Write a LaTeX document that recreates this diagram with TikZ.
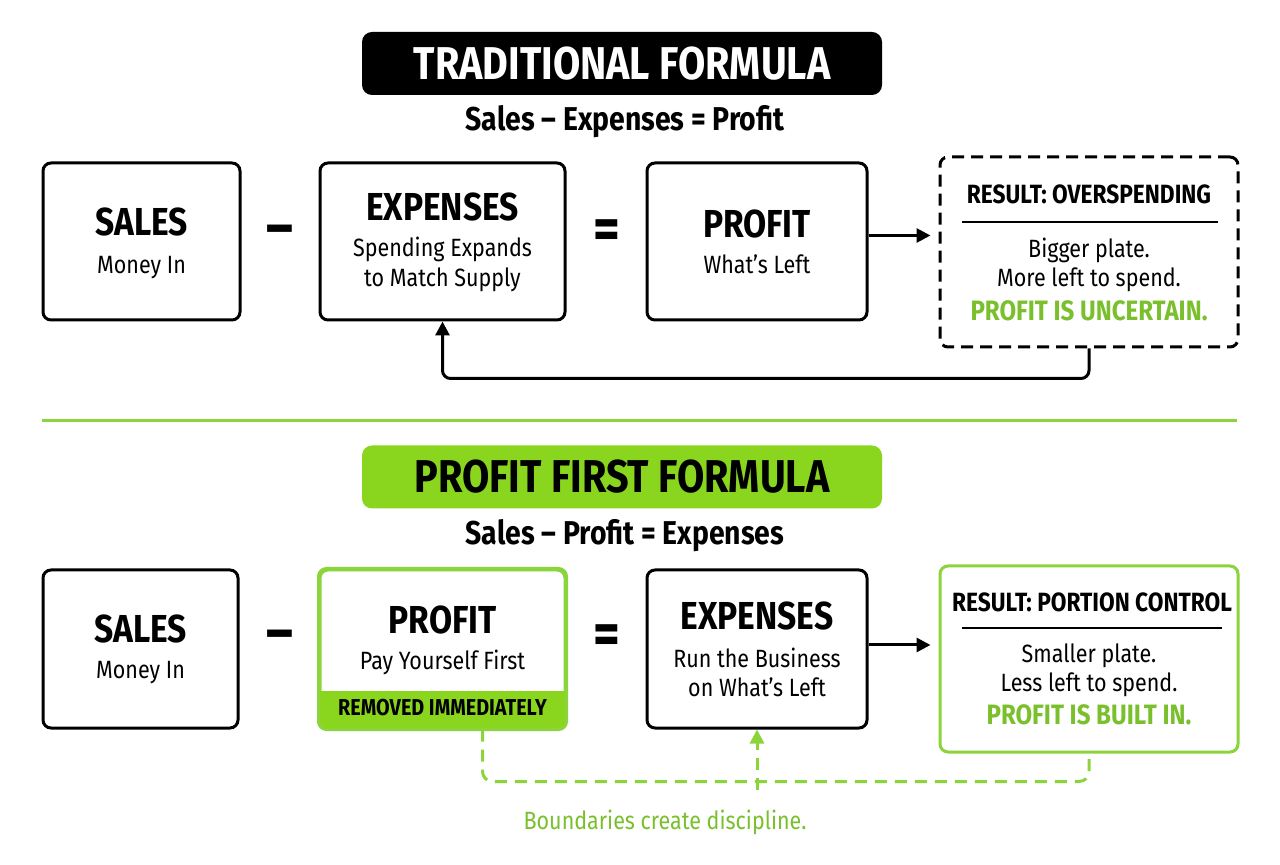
\documentclass[tikz,border=0pt]{standalone}
\usepackage{fontspec}
\setmainfont{Fira Sans}[FakeStretch=0.86]
\usetikzlibrary{arrows.meta,positioning}

\definecolor{vert}{HTML}{8AD61E}
\definecolor{vertligne}{HTML}{8CD43C}
\definecolor{verttexte}{HTML}{7AC02C}

\tikzset{
  boite/.style 2 args={draw, line width=1.5pt, rounded corners=4pt,
    minimum width=#1, minimum height=#2, inner sep=0pt},
  bandeau/.style={rounded corners=5pt, minimum width=260pt, minimum height=31.5pt,
    font=\fontsize{23}{24}\selectfont\bfseries},
  formule/.style={font=\fontsize{16.5}{18}\selectfont\bfseries},
  entete/.style={font=\fontsize{19.5}{20}\selectfont\bfseries, anchor=base, inner sep=0pt},
  texte/.style={font=\fontsize{12.5}{14}\selectfont, anchor=base, inner sep=0pt},
  resultat/.style={font=\fontsize{13.2}{14}\selectfont\bfseries, anchor=base, inner sep=0pt},
  signe/.style={font=\fontsize{30}{30}\selectfont\bfseries, inner sep=0pt},
  fleche/.style={line width=1.5pt, -{Triangle[length=7pt,width=7pt]}},
  tirets/.style={vertligne, line width=1.5pt, dash pattern=on 6pt off 4pt}
}

\begin{document}
\begin{tikzpicture}[x=0.5pt, y=-0.5pt]

  % Cadre
  \fill[white] (0,0) rectangle (1280,865);
  \useasboundingbox (0,0) rectangle (1280,865);

  % Formule traditionnelle
  \node[bandeau, fill=black, text=white] (titre1) at (622,63.5) {TRADITIONAL FORMULA};
  \node[formule] (form1) at (625,122) {Sales -- Expenses = Profit};

  \node[boite={98.5pt}{78.5pt}] (sales1) at (141.5,241.5) {};
  \node[boite={122.5pt}{78.5pt}] (exp1) at (442.5,241.5) {};
  \node[boite={110pt}{78.5pt}] (prof1) at (757,241.5) {};
  \node[boite={149pt}{95pt}, dash pattern=on 6pt off 3.5pt] (res1) at (1089,252) {};

  \node[entete] (sales1t) at (141.5,236) {SALES};
  \node[texte] (sales1s) at (141.5,274) {Money In};
  \node[entete] (exp1t) at (442.5,221) {EXPENSES};
  \node[texte] (exp1s) at (442.5,257) {Spending Expands};
  \node[texte] (exp1u) at (442.5,287) {to Match Supply};
  \node[entete] (prof1t) at (757,238) {PROFIT};
  \node[texte] (prof1s) at (757,274) {What’s Left};

  \node[resultat] (res1t) at (1089,204) {RESULT: OVERSPENDING};
  \draw[line width=1.2pt] (962,222) -- (1218,222);
  \node[texte] (res1a) at (1089,258) {Bigger plate.};
  \node[texte] (res1b) at (1089,287) {More left to spend.};
  \node[resultat, text=verttexte, font=\fontsize{14}{15}\selectfont\bfseries] (res1c) at (1089,321) {PROFIT IS UNCERTAIN.};

  \node[signe] (moins1) at (280,236) {–};
  \node[signe] (egal1) at (607,235) {=};

  \draw[fleche] ([yshift=3pt]prof1.east) -- ([yshift=3pt,xshift=-4pt]prof1.east -| res1.west);
  \draw[fleche, rounded corners=4pt] (res1.south) -- ++(0,30) -| (exp1.south);

  % Separation
  \draw[vertligne, line width=1.5pt] (42,421) -- (1237,421);

  % Formule Profit First
  \node[bandeau, fill=vert, text=black] (titre2) at (622,477) {PROFIT FIRST FORMULA};
  \node[formule] (form2) at (625,536) {Sales -- Profit = Expenses};

  \node[boite={97.5pt}{79pt}] (sales2) at (140.5,649) {};
  \node[boite={122.5pt}{79pt}, draw=vertligne] (pp) at (442.5,649) {};
  \node[boite={110pt}{79pt}] (exp2) at (757,649) {};
  \node[boite={149pt}{93pt}, draw=vertligne] (res2) at (1089,659) {};

  % Bandeau vert de la boite profit
  \begin{scope}
    \clip[rounded corners=4pt] (pp.south west) rectangle (pp.north east);
    \fill[vert] (pp.south west) rectangle ([yshift=19pt]pp.south east);
  \end{scope}
  \draw[vertligne, line width=1.5pt, rounded corners=4pt] (pp.south west) rectangle (pp.north east);
  \node[resultat, font=\fontsize{11.5}{12}\selectfont\bfseries] (ppb) at (442.5,716) {REMOVED IMMEDIATELY};

  \node[entete] (sales2t) at (140.5,643) {SALES};
  \node[texte] (sales2s) at (140.5,679) {Money In};
  \node[entete] (pp2t) at (442.5,634) {PROFIT};
  \node[texte] (pp2s) at (442.5,669) {Pay Yourself First};
  \node[entete] (exp2t) at (757,630) {EXPENSES};
  \node[texte] (exp2s) at (757,668) {Run the Business};
  \node[texte] (exp2u) at (757,697) {on What’s Left};

  \node[resultat] (res2t) at (1092,612) {RESULT: PORTION CONTROL};
  \draw[line width=1.2pt] (962,628) -- (1222,628);
  \node[texte] (res2a) at (1089,662) {Smaller plate.};
  \node[texte] (res2b) at (1089,691) {Less left to spend.};
  \node[resultat, text=verttexte, font=\fontsize{14}{15}\selectfont\bfseries] (res2c) at (1089,725) {PROFIT IS BUILT IN.};

  \node[signe] (moins2) at (280,641) {–};
  \node[signe] (egal2) at (607,640) {=};

  \draw[fleche] ([yshift=2pt]exp2.east) -- ([yshift=2pt,xshift=-4pt]exp2.east -| res2.west);

  % Boucle en tirets
  \draw[tirets, rounded corners=5pt] ([xshift=20pt]pp.south) -- ++(0,52) -| (res2.south);
  \coordinate (jonction) at (757,790);
  \draw[tirets, -{Triangle[length=7pt,width=7pt]}] (jonction) -- (exp2.south);
  \node[texte, text=verttexte] (limites) at (665,829) {Boundaries create discipline.};

\end{tikzpicture}
\end{document}
